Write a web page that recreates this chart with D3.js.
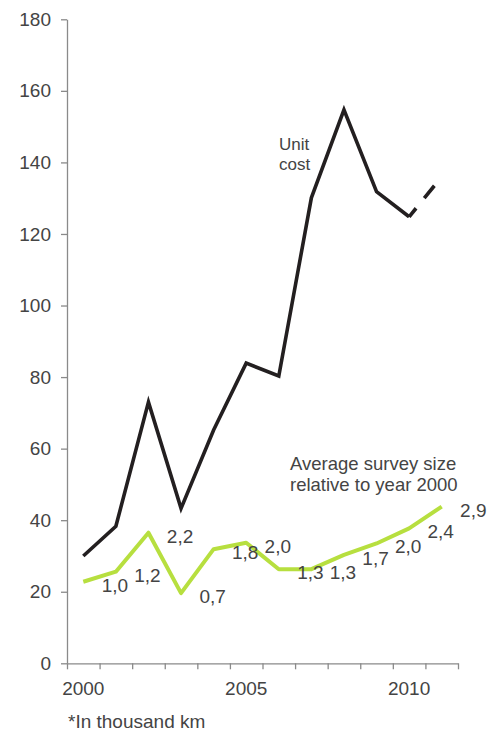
<!DOCTYPE html>
<html>
<head>
<meta charset="utf-8">
<script src="https://cdn.jsdelivr.net/npm/d3@7"></script>
<style>
  html, body { margin: 0; padding: 0; background: #fff; }
  svg text { font-family: "Liberation Sans", Arial, sans-serif; }
</style>
</head>
<body>
<svg id="chart" width="487" height="736"></svg>
<script>
// ---- data ----
const years = [2000, 2001, 2002, 2003, 2004, 2005, 2006, 2007, 2008, 2009, 2010, 2011];
const unitCost = [30, 38.3, 73, 43.3, 65.2, 83.9, 80.3, 130.1, 154.7, 131.8, 124.8, 136];
const surveySize = [22.8, 25.6, 36.5, 19.6, 31.9, 33.7, 26.3, 26.3, 30.3, 33.5, 37.7, 43.8];
const surveyLabels = ["1,0", "1,2", "2,2", "0,7", "1,8", "2,0", "1,3", "1,3", "1,7", "2,0", "2,4", "2,9"];
const yTicks = [0, 20, 40, 60, 80, 100, 120, 140, 160, 180];
const xTickLabels = [2000, 2005, 2010];
const unitCostLabel = ["Unit", "cost"];
const surveyTitle = ["Average survey size", "relative to year 2000"];
const footnote = "*In thousand km";

// ---- layout ----
const svg = d3.select("#chart");
const mLeft = 67, mRight = 458, mTop = 19.3, mBottom = 663.3;
const textColor = "#444";
const axisColor = "#8a8a8a";
const fontFam = "'Liberation Sans', Arial, sans-serif";

const x = d3.scaleBand().domain(years).range([mLeft, mRight]).paddingInner(0).paddingOuter(0);
const xc = d => x(d) + x.bandwidth() / 2;
const xEdge = d3.scaleLinear().domain([0, years.length]).range([mLeft, mRight]);
const y = d3.scaleLinear().domain([0, 180]).range([mBottom, mTop]);

// y axis
const yAxis = svg.append("g")
  .attr("transform", `translate(${mLeft},0)`)
  .call(d3.axisLeft(y).tickValues(yTicks).tickSize(6).tickPadding(10).tickSizeOuter(0));
yAxis.select(".domain").attr("stroke", axisColor).attr("stroke-width", 1.3);
yAxis.selectAll(".tick line").attr("stroke", axisColor).attr("stroke-width", 1.3);
yAxis.selectAll(".tick text").attr("fill", textColor).style("font-size", "19px")
  .style("font-family", fontFam);

// x axis: tick marks at band boundaries
const xAxis = svg.append("g")
  .attr("transform", `translate(0,${mBottom})`)
  .call(d3.axisBottom(xEdge).tickValues(d3.range(years.length + 1)).tickFormat("").tickSize(6).tickSizeOuter(0));
xAxis.select(".domain").attr("stroke", axisColor).attr("stroke-width", 1.3);
xAxis.selectAll(".tick line").attr("stroke", axisColor).attr("stroke-width", 1.3);

// x axis labels at band centres
const xLab = svg.append("g")
  .attr("transform", `translate(0,${mBottom})`)
  .call(d3.axisBottom(x).tickValues(xTickLabels).tickSize(0).tickPadding(18));
xLab.select(".domain").remove();
xLab.selectAll(".tick text").attr("fill", textColor).style("font-size", "19px")
  .style("font-family", fontFam);

// lines
const n = years.length;
const line = d3.line().x((d, i) => xc(years[i])).y(d => y(d));

// unit cost solid part (2000-2010)
svg.append("path")
  .datum(unitCost.slice(0, n - 1))
  .attr("d", line)
  .attr("fill", "none").attr("stroke", "#231f20").attr("stroke-width", 3.6)
  .attr("stroke-linejoin", "miter");

// unit cost dashed part (2010-2011)
svg.append("path")
  .datum(unitCost.slice(n - 2))
  .attr("d", d3.line().x((d, i) => xc(years[n - 2 + i])).y(d => y(d)))
  .attr("fill", "none").attr("stroke", "#231f20").attr("stroke-width", 3.6)
  .attr("stroke-dasharray", "11,13,16,30");

// survey size
svg.append("path")
  .datum(surveySize)
  .attr("d", line)
  .attr("fill", "none").attr("stroke", "#b7df3f").attr("stroke-width", 4)
  .attr("stroke-linejoin", "round");

// survey labels (placed one band to the right of each point)
svg.append("g").selectAll("text")
  .data(surveySize)
  .join("text")
  .attr("x", (d, i) => xc(years[i]) + x.bandwidth() - 1)
  .attr("y", d => y(d) + 10)
  .attr("text-anchor", "middle")
  .attr("fill", textColor)
  .style("font-size", "19px")
  .text((d, i) => surveyLabels[i]);

// annotations
svg.append("text")
  .attr("x", 279).attr("y", 149.5)
  .attr("fill", textColor).style("font-size", "17px")
  .selectAll("tspan").data(unitCostLabel).join("tspan")
  .attr("x", 279).attr("dy", (d, i) => i === 0 ? 0 : 20)
  .text(d => d);

svg.append("text")
  .attr("x", 290).attr("y", 469.5)
  .attr("fill", textColor).style("font-size", "18.5px")
  .selectAll("tspan").data(surveyTitle).join("tspan")
  .attr("x", 290).attr("dy", (d, i) => i === 0 ? 0 : 21.5)
  .text(d => d);

svg.append("text")
  .attr("x", 68).attr("y", 728)
  .attr("fill", textColor).style("font-size", "19px")
  .text(footnote);
</script>
</body>
</html>
